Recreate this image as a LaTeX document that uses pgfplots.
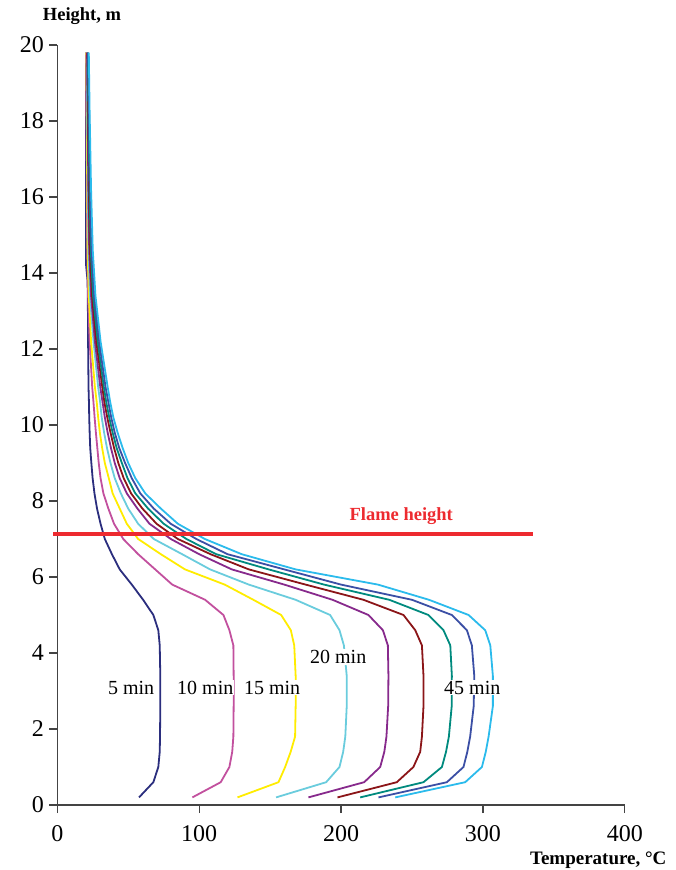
\documentclass[border=0pt]{standalone}
\usepackage{pgfplots}
\pgfplotsset{compat=1.18}
\usepackage{fontspec}
\setmainfont{Liberation Serif}
\definecolor{c5}{HTML}{2B2E7E}
\definecolor{c10}{HTML}{C2509E}
\definecolor{c15}{HTML}{FFEC00}
\definecolor{c20}{HTML}{6ACCDD}
\definecolor{c25}{HTML}{872A8C}
\definecolor{c30}{HTML}{8B1518}
\definecolor{c35}{HTML}{008A7E}
\definecolor{c40}{HTML}{3B4FA5}
\definecolor{c45}{HTML}{2BBBEC}
\definecolor{flame}{HTML}{ED2A2F}
\definecolor{axgray}{HTML}{444444}
\begin{document}
\begin{tikzpicture}[x=1pt,y=1pt]
\useasboundingbox (0,0) rectangle (676,870);
\begin{axis}[
  at={(57.3pt,65pt)}, anchor=south west,
  scale only axis, width=567.5pt, height=760pt,
  xmin=0, xmax=400, ymin=0, ymax=20,
  axis lines=left, axis line style={-, line width=1.3pt, color=axgray},
  xtick={0,100,200,300,400}, ytick={0,2,...,20},
  tick align=outside, major tick length=8pt,
  tick style={line width=1.2pt, color=axgray},
  /pgf/number format/assume math mode=true,
  ticklabel style={font=\fontsize{24}{24}\selectfont},
  xticklabel style={yshift=-9pt},
  yticklabel style={xshift=-2pt},
  clip=false,
  every axis plot/.append style={line width=1.8pt, no marks},
]
\addplot[c5] table[x=T,y=h] {
h T
0.2 57.6
0.6 67.7
1.0 71.2
1.4 72.2
1.8 72.4
2.6 72.6
3.4 72.6
4.2 72.2
4.6 71.2
5.0 67.7
5.4 60.5
5.8 52.5
6.2 44
6.6 38.5
7.0 33.5
7.4 30.5
7.8 28
8.2 26.2
8.6 24.9
9.0 24
9.4 23.2
9.8 22.8
10.2 22.5
10.6 22.3
11.0 22.0
12.2 21.7
13.4 21.5
13.8 21.3
14.2 20.3
16.2 20.2
18.2 20.2
19.8 20.3
};
\addplot[c10] table[x=T,y=h] {
h T
0.2 95.2
0.6 115.2
1.0 121.3
1.4 123.3
1.8 124.1
2.6 124.3
3.4 124.3
4.2 124.1
4.6 121.3
5.0 117.1
5.4 104.2
5.8 81
6.2 69
6.6 57
7.0 46.5
7.4 40
7.8 36
8.2 32.5
8.6 30.5
9.0 29.2
9.4 28.2
9.8 27.2
10.2 26.3
10.6 25.5
11.0 24.6
12.2 22.8
13.4 21.7
14.6 21.1
16.2 20.8
18.2 20.5
19.8 20.3
};
\addplot[c15] table[x=T,y=h] {
h T
0.2 127
0.6 155.9
1.0 160.6
1.4 164.5
1.8 167.6
2.6 168
3.4 168
4.2 167
4.6 164.6
5.0 157.8
5.4 138.2
5.8 118
6.2 90
6.6 73
7.0 57
7.4 49
7.8 44
8.2 39
8.6 36.3
9.0 33.5
9.4 31.6
9.8 30
10.2 28.8
10.6 27.8
11.0 26.5
12.2 23.8
13.4 22.2
14.6 21.4
16.2 21.1
18.2 20.8
19.8 20.5
};
\addplot[c20] table[x=T,y=h] {
h T
0.2 154.2
0.6 189.5
1.0 198.9
1.4 201.5
1.8 203
2.6 204
3.4 204
4.2 202
4.6 198.9
5.0 192.3
5.4 168
5.8 135
6.2 107.7
6.6 88
7.0 68
7.4 57
7.8 50
8.2 44.8
8.6 40.5
9.0 37.5
9.4 35
9.8 33
10.2 31.3
10.6 30.2
11.0 28.8
12.2 25.5
13.4 23.0
14.6 22.0
16.2 21.5
18.2 21.1
19.8 20.8
};
\addplot[c25] table[x=T,y=h] {
h T
0.2 177
0.6 216.3
1.0 227.6
1.4 230.5
1.8 232
2.6 233.2
3.4 233.4
4.2 233
4.6 229.5
5.0 219.3
5.4 194
5.8 160
6.2 123
6.6 100
7.0 80
7.4 65
7.8 56.5
8.2 49
8.6 44
9.0 40.5
9.4 37.8
9.8 35.5
10.2 33.5
10.6 31.9
11.0 30.3
12.2 26.5
13.4 23.8
14.6 22.5
16.2 21.9
18.2 21.4
19.8 21.0
};
\addplot[c30] table[x=T,y=h] {
h T
0.2 197.5
0.6 239.3
1.0 251
1.4 255.8
1.8 257
2.6 258.1
3.4 258.1
4.2 257
4.6 252.3
5.0 244
5.4 215.8
5.8 175
6.2 135
6.6 108
7.0 85
7.4 70
7.8 60
8.2 52
8.6 46.8
9.0 43
9.4 40
9.8 37.5
10.2 35.2
10.6 33.2
11.0 31.7
12.2 27.5
13.4 24.5
14.6 23
16.2 22.3
18.2 21.7
19.8 21.3
};
\addplot[c35] table[x=T,y=h] {
h T
0.2 213.5
0.6 258.1
1.0 271.1
1.4 274
1.8 276
2.6 278
3.4 278.1
4.2 277
4.6 272.2
5.0 261.6
5.4 234
5.8 188
6.2 149
6.6 112
7.0 91
7.4 75
7.8 64
8.2 55
8.6 49.5
9.0 45.5
9.4 41.8
9.8 39
10.2 36.6
10.6 34.5
11.0 32.8
12.2 28.5
13.4 25.2
14.6 23.6
16.2 22.7
18.2 22.0
19.8 21.6
};
\addplot[c40] table[x=T,y=h] {
h T
0.2 226.4
0.6 274.6
1.0 286.3
1.4 289
1.8 291
2.6 293.5
3.4 293.9
4.2 292.2
4.6 288.7
5.0 278.1
5.4 250
5.8 200
6.2 160
6.6 120
7.0 98
7.4 80
7.8 68
8.2 58.5
8.6 52.5
9.0 47.8
9.4 43.6
9.8 40.5
10.2 38
10.6 36
11.0 34
12.2 29.5
13.4 26
14.6 24.2
16.2 23.2
18.2 22.4
19.8 21.8
};
\addplot[c45] table[x=T,y=h] {
h T
0.2 238.2
0.6 287.5
1.0 299.3
1.4 302
1.8 304
2.6 307
3.4 307
4.2 305.2
4.6 301.6
5.0 289.9
5.4 262
5.8 226
6.2 168
6.6 130
7.0 104
7.4 85
7.8 73
8.2 62
8.6 55
9.0 50
9.4 46
9.8 42.5
10.2 39.5
10.6 37.3
11.0 35.5
12.2 30.5
13.4 26.9
14.6 25.0
16.2 23.8
18.2 22.8
19.8 22.2
};
\addplot[flame, line width=4pt] coordinates {(-3,7.14) (335.5,7.14)};
\node[font=\bfseries\fontsize{18.5}{18.5}\selectfont, text=flame] at (axis cs:242.4,7.6) {Flame height};
\node[font=\fontsize{20}{20}\selectfont, fill=white, inner sep=1pt] at (axis cs:52,3.09) {5 min};
\node[font=\fontsize{20}{20}\selectfont, fill=white, inner sep=1pt] at (axis cs:104.3,3.09) {10 min};
\node[font=\fontsize{20}{20}\selectfont, fill=white, inner sep=1pt] at (axis cs:151.4,3.09) {15 min};
\node[font=\fontsize{20}{20}\selectfont, fill=white, inner sep=1pt] at (axis cs:198,3.9) {20 min};
\node[font=\fontsize{20}{20}\selectfont, fill=white, inner sep=1pt] at (axis cs:292.5,3.09) {45 min};
\node[font=\bfseries\fontsize{18.5}{18.5}\selectfont] at (axis cs:17.4,20.77) {Height, m};
\node[font=\bfseries\fontsize{19}{19}\selectfont] at (axis cs:381.3,-1.45) {Temperature, °C};
\end{axis}
\end{tikzpicture}
\end{document}
